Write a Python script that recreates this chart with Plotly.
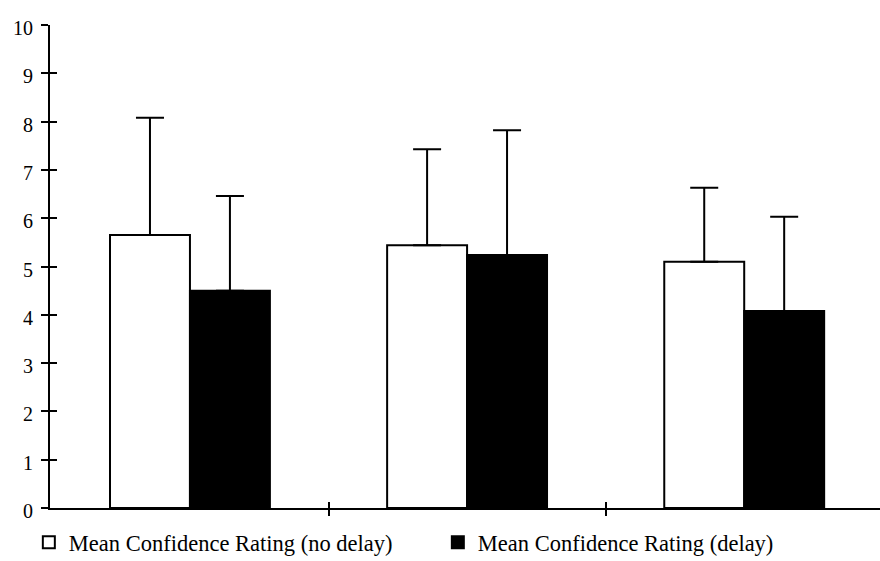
import plotly.graph_objects as go

# ---- data ----
groups = ["Condition 1", "Condition 2", "Condition 3"]
series_names = ["Mean Confidence Rating (no delay)", "Mean Confidence Rating (delay)"]
no_delay_mean = [5.65, 5.44, 5.10]
no_delay_err = [2.43, 1.99, 1.53]
delay_mean = [4.50, 5.24, 4.08]
delay_err = [1.96, 2.58, 1.95]
y_ticks = [0, 1, 2, 3, 4, 5, 6, 7, 8, 9, 10]

x_pos = list(range(len(groups)))
boundaries = [i + 0.5 for i in x_pos[:-1]]

FONT = "Times New Roman"

fig = go.Figure()
fig.add_trace(go.Bar(
    x=x_pos, y=no_delay_mean, name=series_names[0],
    marker=dict(color="white", line=dict(color="black", width=2)),
    error_y=dict(type="data", symmetric=False, array=no_delay_err,
                 arrayminus=[0] * len(groups), color="black", thickness=2, width=14),
))
fig.add_trace(go.Bar(
    x=x_pos, y=delay_mean, name=series_names[1],
    marker=dict(color="black", line=dict(color="black", width=2)),
    error_y=dict(type="data", symmetric=False, array=delay_err,
                 arrayminus=[0] * len(groups), color="black", thickness=2, width=14),
))
# invisible trace to carry the overlay axes (inside ticks -> crossing ticks)
fig.add_trace(go.Scatter(x=[x_pos[0]], y=[0], xaxis="x2", yaxis="y2",
                         mode="markers", marker=dict(opacity=0),
                         showlegend=False, hoverinfo="skip"))

fig.update_layout(
    width=880, height=561,
    margin=dict(l=50, r=0, t=25, b=53, autoexpand=False),
    paper_bgcolor="white", plot_bgcolor="white",
    barmode="group", bargap=0.423, bargroupgap=0,
    font=dict(family=FONT, color="black", size=20),
    showlegend=True,
    legend=dict(orientation="h", x=-0.0255, xanchor="left", y=-0.027, yanchor="top",
                font=dict(family=FONT, size=22.5, color="black"),
                entrywidth=364, itemsizing="constant",
                bgcolor="rgba(0,0,0,0)"),
    xaxis=dict(range=[-0.505, 2.49], showgrid=False, zeroline=False,
               showline=True, linecolor="black", linewidth=2,
               tickmode="array", tickvals=boundaries, ticktext=["" for _ in boundaries],
               ticks="outside", ticklen=6, tickwidth=2, tickcolor="black"),
    yaxis=dict(range=[0, 10], showgrid=False, zeroline=False,
               showline=True, linecolor="black", linewidth=2,
               tickmode="array", tickvals=y_ticks, ticktext=[str(v) for v in y_ticks],
               ticks="outside", ticklen=7, tickwidth=2, tickcolor="black",
               ticklabelshift=3, ticklabelstandoff=4,
               tickfont=dict(family=FONT, size=20, color="black")),
    xaxis2=dict(overlaying="x", matches="x", showgrid=False, zeroline=False,
                tickmode="array", tickvals=boundaries, ticktext=["" for _ in boundaries],
                ticks="inside", ticklen=6, tickwidth=2, tickcolor="black",
                showticklabels=False, side="bottom"),
    yaxis2=dict(overlaying="y", matches="y", showgrid=False, zeroline=False,
                tickmode="array", tickvals=y_ticks,
                ticks="inside", ticklen=7, tickwidth=2, tickcolor="black",
                showticklabels=False, side="left"),
)

fig.write_html("out.html")
